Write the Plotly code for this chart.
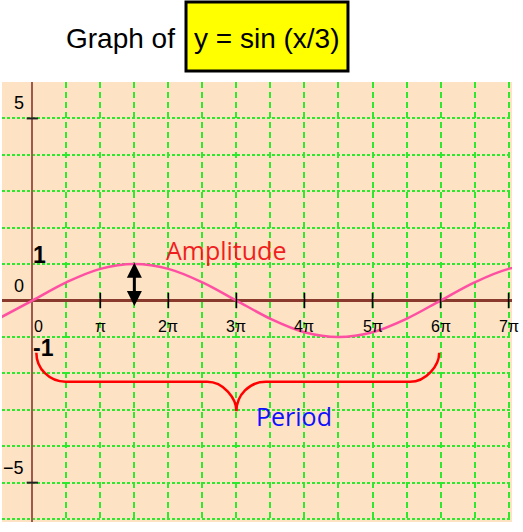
import numpy as np
import plotly.graph_objects as go

PI = np.pi

# ---- data (x in multiples of pi) ----
curve_x_pi = [-0.5, 0, 0.5, 1, 1.5, 2, 2.5, 3, 3.5, 4, 4.5, 5, 5.5, 6, 6.5, 7, 7.5]
curve_y = [-0.5, 0, 0.5, 0.87, 1, 0.87, 0.5, 0, -0.5, -0.87, -1, -0.87, -0.5, 0, 0.5, 0.87, 1]

xtick_pi = [0, 1, 2, 3, 4, 5, 6, 7]
xtick_text = ["0", "π", "2π", "3π", "4π", "5π", "6π", "7π"]

ytick_vals = [5, 0, -5]
ytick_text = ["5", "0", "−5"]

# amplitude arrow (x in pi, y from/to)
amp_x_pi = 1.5
amp_y = [-0.19, 1.035]

# period brace: ends/tip x (pi), levels y
brace_x_pi = [0.06, 3.0, 5.98]
brace_y = [-1.43, -2.23, -3.04]
brace_r_pi = 0.43

curve_x = [v * PI for v in curve_x_pi]

fig = go.Figure()

fig.add_trace(go.Scatter(
    x=curve_x, y=curve_y, mode="lines",
    line=dict(color="#FF4FA3", width=2.5, shape="spline", smoothing=1.0),
    hoverinfo="skip", showlegend=False))

# x tick marks
fig.add_trace(go.Scatter(
    x=[v * PI for v in xtick_pi[1:]], y=[0] * (len(xtick_pi) - 1), mode="markers",
    marker=dict(symbol="line-ns", size=11, line=dict(color="black", width=1.6)),
    hoverinfo="skip", showlegend=False, cliponaxis=False))
# y tick marks
fig.add_trace(go.Scatter(
    x=[0, 0], y=[ytick_vals[0], ytick_vals[2]], mode="markers",
    marker=dict(symbol="line-ew", size=8, line=dict(color="#222", width=2)),
    hoverinfo="skip", showlegend=False))

# brace path
k = 0.5523
xl, xt, xr = [v * PI for v in brace_x_pi]
ye, yb, yt = brace_y
rx = brace_r_pi * PI
def P(x, y):
    return f"{x:.4f},{y:.4f}"
path = (
    "M" + P(xl, ye)
    + " C" + P(xl, ye + k * (yb - ye)) + " " + P(xl + rx - k * rx, yb) + " " + P(xl + rx, yb)
    + " L" + P(xt - rx, yb)
    + " C" + P(xt - rx + k * rx, yb) + " " + P(xt, yb + k * (yt - yb)) + " " + P(xt, yt)
    + " C" + P(xt, yt + k * (yb - yt)) + " " + P(xt + rx - k * rx, yb) + " " + P(xt + rx, yb)
    + " L" + P(xr - rx, yb)
    + " C" + P(xr - rx + k * rx, yb) + " " + P(xr, yb + k * (ye - yb)) + " " + P(xr, ye)
)
fig.add_shape(type="path", path=path, xref="x", yref="y",
              line=dict(color="#FF0000", width=2.5))

# title box
fig.add_shape(type="rect", xref="paper", yref="paper",
              x0=0.3608, x1=0.6784, y0=1.025, y1=1.1818,
              fillcolor="#FFFF00", line=dict(color="black", width=3))

sans = "Liberation Sans, Arial, sans-serif"
ann = []
ann.append(dict(x=0.2333, y=1.098, xref="paper", yref="paper", text="Graph of",
                showarrow=False, font=dict(family=sans, size=28, color="black"),
                xanchor="center", yanchor="middle"))
ann.append(dict(x=0.5196, y=1.098, xref="paper", yref="paper", text="y = sin (x/3)",
                showarrow=False, font=dict(family=sans, size=28, color="black"),
                xanchor="center", yanchor="middle"))

for v, t in zip(xtick_pi, xtick_text):
    ann.append(dict(x=v * PI, y=-0.71, text=t, showarrow=False,
                    xshift=6 if v == 0 else 0,
                    font=dict(family=sans, size=16, color="black"),
                    xanchor="center", yanchor="middle"))
for v, t in zip(ytick_vals, ytick_text):
    ann.append(dict(x=0, y=v, text=t, showarrow=False, xshift=-6, yshift=15,
                    font=dict(family=sans, size=18, color="black"),
                    xanchor="right", yanchor="middle"))

ann.append(dict(x=0.106 * PI, y=1.25, text="<b>1</b>", showarrow=False,
                font=dict(family=sans, size=23, color="black"),
                xanchor="center", yanchor="middle"))
ann.append(dict(x=0.17 * PI, y=-1.29, text="<b>-1</b>", showarrow=False,
                font=dict(family=sans, size=23, color="black"),
                xanchor="center", yanchor="middle"))

ann.append(dict(x=amp_x_pi * PI, y=amp_y[1], ax=amp_x_pi * PI, ay=amp_y[0],
                xref="x", yref="y", axref="x", ayref="y", text="",
                showarrow=True, arrowhead=2, startarrowhead=2, arrowside="end+start",
                arrowwidth=3, arrowsize=1, startarrowsize=1, arrowcolor="black"))

ann.append(dict(x=2.846 * PI, y=1.4, text="Amplitude", showarrow=False,
                font=dict(family="Open Sans, sans-serif", size=25, color="#F01E1E"),
                xanchor="center", yanchor="middle"))
ann.append(dict(x=3.845 * PI, y=-3.16, text="Period", showarrow=False,
                font=dict(family="Open Sans, sans-serif", size=25, color="#1010FF"),
                xanchor="center", yanchor="middle"))

fig.update_layout(
    width=523, height=532,
    margin=dict(l=2, r=11, t=82, b=10),
    paper_bgcolor="white", plot_bgcolor="#FDE2C4",
    annotations=ann, showlegend=False,
    xaxis=dict(range=[-0.445 * PI, 7.05 * PI], tick0=0, dtick=PI / 2,
               showgrid=True, gridcolor="#2EE82E", gridwidth=1.6, griddash="6px,4px",
               zeroline=True, zerolinecolor="#A0584A", zerolinewidth=2,
               showticklabels=False, ticks="", showline=False, fixedrange=True),
    yaxis=dict(range=[-6.08, 6.0], tick0=0, dtick=1,
               showgrid=True, gridcolor="#2EE82E", gridwidth=2, griddash="3px,2px",
               zeroline=True, zerolinecolor="#8A3A2C", zerolinewidth=3,
               showticklabels=False, ticks="", showline=False, fixedrange=True),
)

fig.write_html("out.html", config={"displayModeBar": False},
               post_script="document.body.style.margin='0';document.body.style.overflow='hidden';")
